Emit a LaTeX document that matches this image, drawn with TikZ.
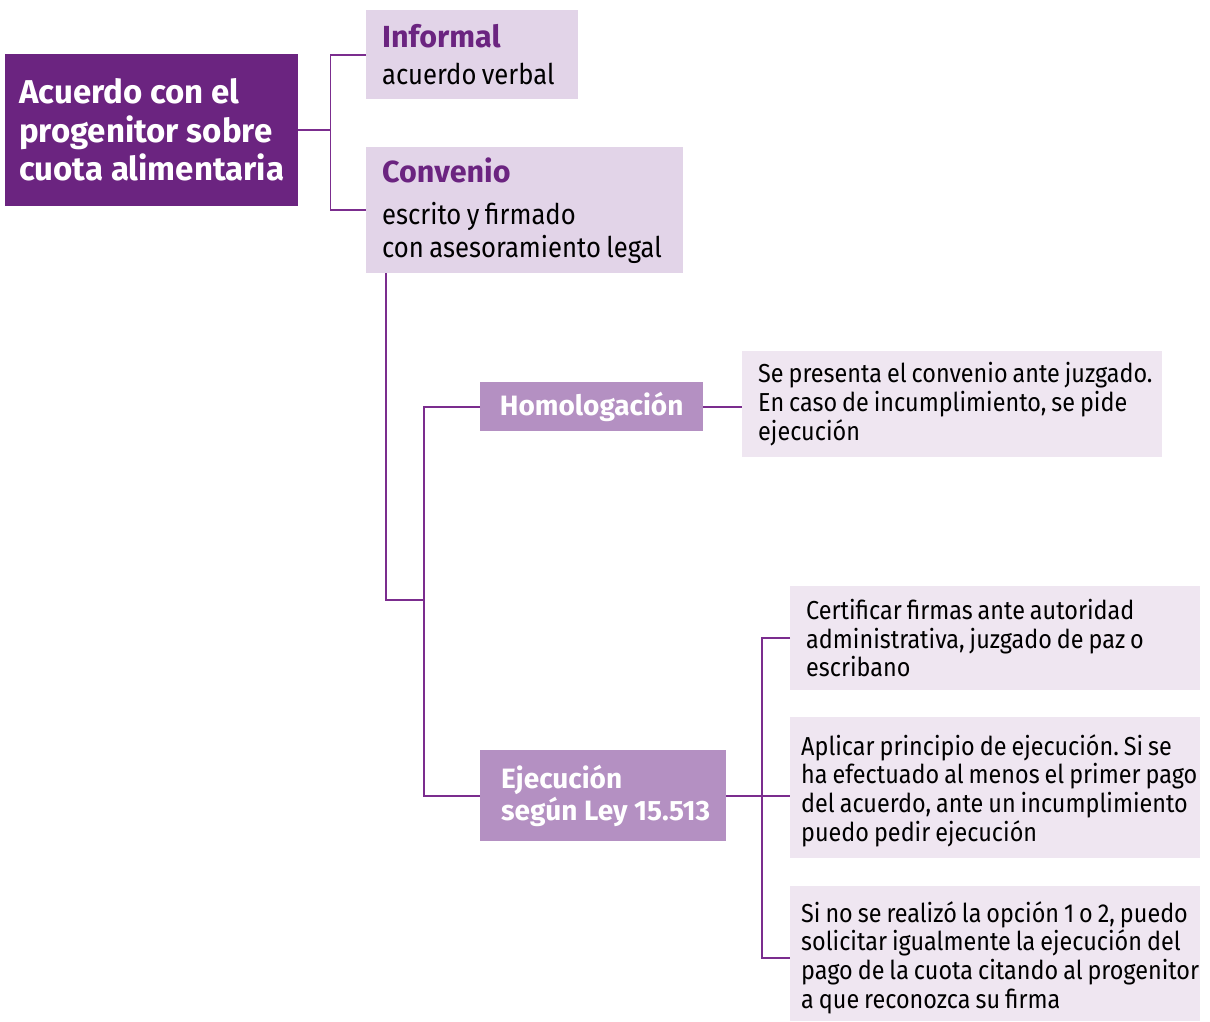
\documentclass[tikz,border=0pt]{standalone}
\usepackage{fontspec}
\setmainfont[FakeStretch=0.9, WordSpace=0.8,
    BoldFeatures={FakeStretch=1, WordSpace=1}]{Fira Sans}
\usetikzlibrary{positioning}
\definecolor{rootpurple}{HTML}{6B2480}
\definecolor{optlilac}{HTML}{E2D4E8}
\definecolor{stepmauve}{HTML}{B490C2}
\definecolor{desclilac}{HTML}{EFE6F1}
\definecolor{linepurple}{HTML}{7B2D8E}
\tikzstyle{rootbox} = [fill=rootpurple, anchor=north west, inner sep=0pt]
\tikzstyle{optbox} = [fill=optlilac, anchor=north west, inner sep=0pt]
\tikzstyle{stepbox} = [fill=stepmauve, anchor=north west, inner sep=0pt]
\tikzstyle{descbox} = [fill=desclilac, anchor=north west, inner sep=0pt]
\tikzstyle{roottext} = [text=white, inner sep=0pt, align=left,
    font=\bfseries\fontsize{33}{38.5}\selectfont]
\tikzstyle{opttext} = [inner sep=0pt, align=left,
    font=\fontsize{28.5}{32.5}\selectfont]
\tikzstyle{steptext} = [text=white, inner sep=0pt, align=left,
    font=\bfseries\fontsize{28}{32}\selectfont]
\tikzstyle{desctext} = [inner sep=0pt, align=left,
    font=\fontsize{26}{28.8}\selectfont]
\tikzstyle{link} = [draw=linepurple, line width=1.8pt]
\newcommand{\optitle}[1]{{\bfseries\fontsize{30.5}{32}\selectfont\color{rootpurple}#1}}

\begin{document}
\frenchspacing
\begin{tikzpicture}[x=1pt,y=-1pt]
	\useasboundingbox (0,0) rectangle (1210,1021);

	% acuerdo
	\node[rootbox, minimum width=293pt, minimum height=152pt] (root) at (5,54) {};
	\node[roottext, right=14pt of root.west] (roottxt)
		{Acuerdo con el\\progenitor sobre\\cuota alimentaria};

	% informal / convenio
	\node[optbox, minimum width=212pt, minimum height=89pt] (informal) at (366,10) {};
	\node[opttext, right=16pt of informal.west] (informaltxt)
		{\optitle{Informal}\\[4pt]acuerdo verbal};
	\node[optbox, minimum width=317pt, minimum height=126pt] (convenio) at (366,147) {};
	\node[opttext, right=16pt of convenio.west] (conveniotxt)
		{\optitle{Convenio}\\[10pt]escrito y firmado\\con asesoramiento legal};

	% vias
	\node[stepbox, minimum width=223pt, minimum height=49pt] (homolog) at (480,382) {};
	\node[steptext] (homologtxt) at (homolog.center) {Homologación};
	\node[stepbox, minimum width=246pt, minimum height=91pt] (ejec) at (480,750) {};
	\node[steptext, right=21pt of ejec.west] (ejectxt)
		{Ejecución\\según Ley 15.513};

	% detalles
	\node[descbox, minimum width=420pt, minimum height=106pt] (homdesc) at (742,351) {};
	\node[desctext, right=16pt of homdesc.west] (homdesctxt)
		{Se presenta el convenio ante juzgado.\\En caso de incumplimiento, se pide\\ejecución};
	\node[descbox, minimum width=410pt, minimum height=104pt] (paso1) at (790,586) {};
	\node[desctext, right=16pt of paso1.west] (paso1txt)
		{Certificar firmas ante autoridad\\administrativa, juzgado de paz o\\escribano};
	\node[descbox, minimum width=410pt, minimum height=141pt] (paso2) at (790,717) {};
	\node[desctext, right=11pt of paso2.west, yshift=-3pt] (paso2txt)
		{Aplicar principio de ejecución. Si se\\ha efectuado al menos el primer pago\\del acuerdo, ante un incumplimiento\\puedo pedir ejecución};
	\node[descbox, minimum width=410pt, minimum height=135pt] (paso3) at (790,886) {};
	\node[desctext, right=11pt of paso3.west, yshift=-4pt] (paso3txt)
		{Si no se realizó la opción 1 o 2, puedo\\solicitar igualmente la ejecución del\\pago de la cuota citando al progenitor\\a que reconozca su firma};

	% conectores
	\coordinate (fork) at (424,600);
	\draw[link] (root.east) -- ++(32,0) coordinate (rootfork);
	\draw[link] (informal.west) -| (rootfork) |- (convenio.west);
	\draw[link] ([xshift=20pt]convenio.south west) |- (fork);
	\draw[link] (homolog.west) -| (fork) |- (ejec.west);
	\draw[link] (homolog.east) -- (homolog.east -| homdesc.west);
	\draw[link] (ejec.east) -- (ejec.east -| paso2.west);
	\draw[link] (paso1.west) -- ++(-28,0) |- ([yshift=-4pt]paso3.west);
\end{tikzpicture}
\end{document}
